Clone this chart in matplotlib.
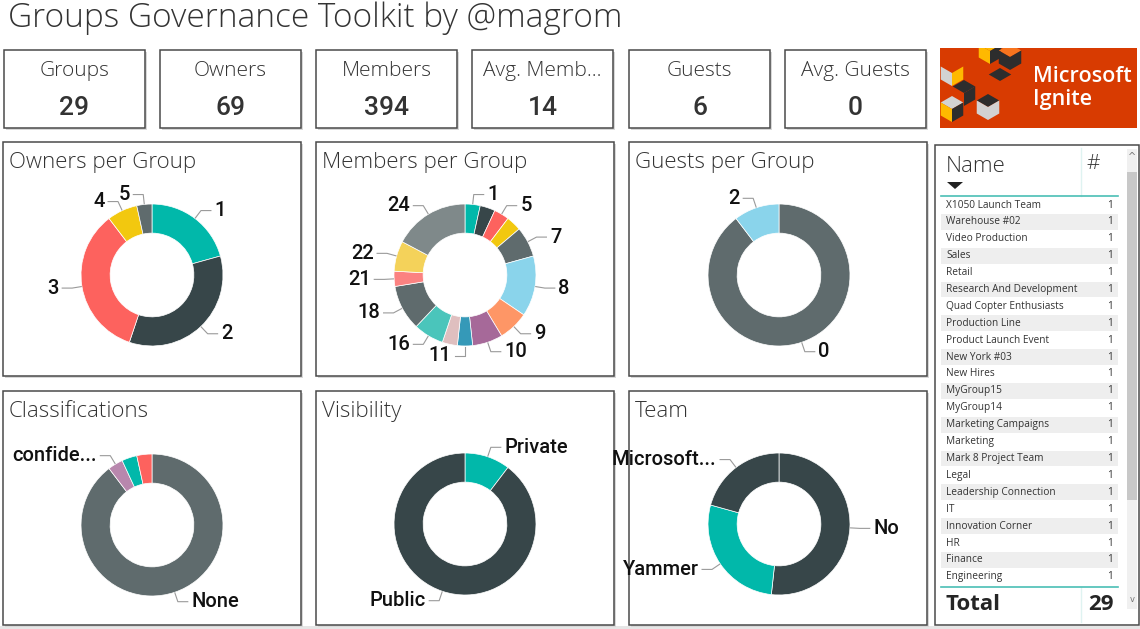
import matplotlib.pyplot as plt
from matplotlib.patches import Rectangle, Polygon
import numpy as np

W, H = 1140, 629

report_title = "Groups Governance Toolkit by @magrom"
kpi_labels = ["Groups", "Owners", "Members", "Avg. Memb...", "Guests", "Avg. Guests"]
kpi_values = [29, 69, 394, 14, 6, 0]

# donut data: number of groups per category, clockwise from 12 o'clock
owner_labels = ["1", "2", "3", "4", "5"]
owner_groups = [6, 10, 10, 2, 1]

member_labels = ["1", "", "5", "", "7", "8", "9", "10", "11", "", "16", "18", "21", "22", "24"]
member_groups = [1, 1, 1, 1, 2, 4, 2, 2, 1, 1, 2, 3, 1, 2, 5]

guest_labels = ["0", "2"]
guest_groups = [26, 3]

class_labels = ["None", "confide...", "", ""]
class_groups = [26, 1, 1, 1]

visibility_labels = ["Private", "Public"]
visibility_groups = [3, 26]

team_labels = ["No", "Yammer", "Microsoft..."]
team_groups = [15, 8, 6]

table_names = ["X1050 Launch Team", "Warehouse #02", "Video Production", "Sales", "Retail",
               "Research And Development", "Quad Copter Enthusiasts", "Production Line",
               "Product Launch Event", "New York #03", "New Hires", "MyGroup15", "MyGroup14",
               "Marketing Campaigns", "Marketing", "Mark 8 Project Team", "Legal",
               "Leadership Connection", "IT", "Innovation Corner", "HR", "Finance", "Engineering"]
table_counts = [1] * len(table_names)
table_total = 29

# Power BI default palette
TEAL, DARK, RED, YELLOW, GRAY = '#01B8AA', '#374649', '#FD625E', '#F2C80F', '#5F6B6D'
owner_colors = [TEAL, DARK, RED, YELLOW, GRAY]
member_colors = [TEAL, DARK, RED, YELLOW, GRAY, '#8AD4EB', '#FE9666', '#A66999', '#3599B8',
                 '#DFBFBF', '#4AC5BB', GRAY, '#FB8281', '#F4D25A', '#7F898A']
guest_colors = [GRAY, '#8AD4EB']
class_colors = [GRAY, '#B887AD', TEAL, RED]
visibility_colors = [TEAL, DARK]
team_colors = [DARK, TEAL, DARK]

LIGHT = dict(family=['Open Sans', 'DejaVu Sans'], weight='light', color='#333333')
LABEL = dict(family=['Roboto', 'DejaVu Sans'], weight='medium', color='#111111')

fig = plt.figure(figsize=(W / 100, H / 100), dpi=100)
fig.patch.set_facecolor('white')
canvas = fig.add_axes([0, 0, 1, 1])
canvas.set_xlim(0, W)
canvas.set_ylim(H, 0)
canvas.axis('off')


def box(x, y, w, h):
    canvas.add_patch(Rectangle((x + 1.5, y + 1.5), w, h, fc='#d8d8d8', ec='none', zorder=1))
    canvas.add_patch(Rectangle((x, y), w, h, fc='white', ec='#4a4a4a', lw=1.1, zorder=2))


canvas.text(8, 18, report_title, fontsize=24, va='center', ha='left', **LIGHT)
canvas.add_patch(Rectangle((0, 626), W, 3, fc='#e6e6e6', ec='none'))

# KPI cards
kpi_x = [4, 160, 316, 472, 629, 785]
for x, lab, val in zip(kpi_x, kpi_labels, kpi_values):
    box(x, 50, 141, 78)
    canvas.text(x + 70.5, 71, lab, fontsize=15, ha='center', va='center', zorder=3, **LIGHT)
    canvas.text(x + 70.5, 108, str(val), fontsize=19, ha='center', va='center', zorder=3,
                family=['Roboto', 'DejaVu Sans'], weight='medium', color='#333333')

# logo
lx, ly, lw_, lh = 940, 48, 197, 80
clip = Rectangle((lx, ly), lw_, lh, fc='#D83B01', ec='none', zorder=2)
canvas.add_patch(clip)


def cube(x, y, s, top, left, right):
    c = 0.866 * s
    faces = [([(x, y), (x + c, y + s / 2), (x, y + s), (x - c, y + s / 2)], top),
             ([(x - c, y + s / 2), (x, y + s), (x, y + 2 * s), (x - c, y + 1.5 * s)], left),
             ([(x, y + s), (x + c, y + s / 2), (x + c, y + 1.5 * s), (x, y + 2 * s)], right)]
    for pts, col in faces:
        if col is None:
            continue
        p = Polygon([(lx + px, ly + py) for px, py in pts], closed=True, fc=col, ec='none', zorder=3)
        canvas.add_patch(p)
        p.set_clip_path(clip)


cube(12, 12, 13, None, '#D2D2D2', '#FFB900')
cube(24, 32, 13, '#2D2D2D', None, '#2D2D2D')
cube(50, -10, 13, '#FFB900', '#FFB900', '#2D2D2D')
cube(70, -4, 13, '#F7741E', '#2D2D2D', '#2D2D2D')
cube(12, 48, 13, '#D2D2D2', '#FFB900', '#2D2D2D')
cube(48, 46, 13, '#2D2D2D', '#D2D2D2', '#D2D2D2')
cube(60, 20, 13, '#2D2D2D', None, None)
canvas.text(1033, 76, "Microsoft", fontsize=15.5, color='white', ha='left', va='center', zorder=4,
            family=['Open Sans', 'DejaVu Sans'], weight='semibold')
canvas.text(1033, 99, "Ignite", fontsize=15.5, color='white', ha='left', va='center', zorder=4,
            family=['Open Sans', 'DejaVu Sans'], weight='semibold')

# donut panels
panel_titles = ["Owners per Group", "Members per Group", "Guests per Group",
                "Classifications", "Visibility", "Team"]
panel_x = [3, 316, 629]
panel_y = [142, 391]
for i, t in enumerate(panel_titles):
    x, y = panel_x[i % 3], panel_y[i // 3]
    box(x, y, 298, 234)
    canvas.text(x + 6, y + 20.5, t, fontsize=16, ha='left', va='center', zorder=3, **LIGHT)


def donut(cx, cy, values, colors, labels):
    ax = fig.add_axes([(cx - 115) / W, 1 - (cy + 115) / H, 230 / W, 230 / H])
    wedges, _ = ax.pie(values, colors=colors, startangle=90, counterclock=False,
                       wedgeprops=dict(width=0.41, edgecolor='white', linewidth=0.5))
    ax.set_xlim(-1.62, 1.62)
    ax.set_ylim(-1.62, 1.62)
    ax.set_aspect('equal')
    ax.axis('off')
    for w, lab in zip(wedges, labels):
        if not lab:
            continue
        ang = np.deg2rad((w.theta1 + w.theta2) / 2)
        x, y = np.cos(ang), np.sin(ang)
        side = 1 if x > 1e-6 else -1
        ex, ey = 1.14 * x, 1.14 * y
        ax.plot([1.01 * x, ex, ex + side * 0.14], [1.01 * y, ey, ey], color='#9a9a9a',
                lw=0.8, clip_on=False)
        ax.text(ex + side * 0.19, ey, lab, fontsize=14.5, ha='left' if side > 0 else 'right',
                va='center', clip_on=False, **LABEL)


donut(152, 275, owner_groups, owner_colors, owner_labels)
donut(465, 275, member_groups, member_colors, member_labels)
donut(779, 275, guest_groups, guest_colors, guest_labels)
donut(152, 525, class_groups, class_colors, class_labels)
donut(465, 524, visibility_groups, visibility_colors, visibility_labels)
donut(779, 524, team_groups, team_colors, team_labels)

# table panel
canvas.add_patch(Rectangle((935, 145), 204, 480, fc='white', ec='#4a4a4a', lw=1.1, zorder=2))
canvas.add_patch(Rectangle((1127, 149), 10, 460, fc='#f0f0f0', ec='none', zorder=3))
canvas.add_patch(Rectangle((1127, 172), 10, 328, fc='#c8c8c8', ec='none', zorder=3))
canvas.text(1132, 157, "^", fontsize=7, color='#777', ha='center', va='center', zorder=4)
canvas.text(1132, 600, "v", fontsize=6, color='#777', ha='center', va='center', zorder=4)
canvas.plot([1081, 1081], [148, 196], color='#dff3f1', lw=1, zorder=3)
canvas.plot([1081, 1081], [587, 622], color='#dff3f1', lw=1, zorder=3)
canvas.text(946, 167, "Name", fontsize=16, ha='left', va='center', zorder=4, **LIGHT)
canvas.text(1086, 164, "#", fontsize=15, ha='left', va='center', zorder=4, **LIGHT)
canvas.add_patch(Polygon([(947, 182), (963, 182), (955, 189)], closed=True, fc='#222', ec='none',
                         zorder=4))
canvas.plot([941, 1118], [196, 196], color='#4ABFB5', lw=1.2, zorder=4)

row_h = 16.9
for i, (name, cnt) in enumerate(zip(table_names, table_counts)):
    yc = 205 + i * row_h
    if i % 2 == 1:
        canvas.add_patch(Rectangle((941, yc - row_h / 2 + 0.5), 177, row_h - 1, fc='#eeeeee',
                                   ec='none', zorder=3))
    canvas.text(946, yc, name, fontsize=7.3, ha='left', va='center', color='#333333', zorder=4,
                family=['Open Sans', 'DejaVu Sans'])
    canvas.text(1113, yc, str(cnt), fontsize=7.3, ha='right', va='center', color='#333333',
                zorder=4, family=['Open Sans', 'DejaVu Sans'])

canvas.plot([941, 1118], [587, 587], color='#4ABFB5', lw=1.2, zorder=4)
canvas.text(946, 605, "Total", fontsize=16, weight='bold', ha='left', va='center', color='#252525',
            zorder=4, family=['Open Sans', 'DejaVu Sans'])
canvas.text(1114, 605, str(table_total), fontsize=16, weight='bold', ha='right', va='center',
            color='#252525', zorder=4, family=['Open Sans', 'DejaVu Sans'])

fig.savefig('out.png', dpi=100, facecolor='white')
